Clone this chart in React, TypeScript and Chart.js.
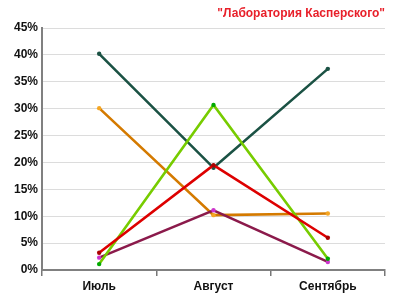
import React, { useEffect, useRef } from "react";
import { Chart, registerables } from "chart.js";

Chart.register(...registerables);

const titleText = "\"Лаборатория Касперского\"";
const categories = ["Июль", "Август", "Сентябрь"];
const seriesTeal = [40.2, 19.0, 37.4];
const seriesOrange = [30.1, 10.2, 10.5];
const seriesPurple = [2.3, 11.1, 1.5];
const seriesGreen = [1.1, 30.7, 2.1];
const seriesRed = [3.2, 19.5, 6.0];
const yTicks = [0, 5, 10, 15, 20, 25, 30, 35, 40, 45];

export default function App() {
  const ref = useRef<HTMLCanvasElement | null>(null);
  useEffect(() => {
    document.body.style.margin = "0";
    const font = { family: "'Liberation Sans', Arial, sans-serif", size: 12, weight: "bold" as const };
    const mk = (data: number[], line: string, point: string, order: number) => ({
      data,
      borderColor: line,
      backgroundColor: point,
      pointBackgroundColor: point,
      pointBorderWidth: 0,
      pointRadius: 2.2,
      borderWidth: 2.6,
      tension: 0,
      order,
    });
    const chart = new Chart(ref.current!, {
      type: "line",
      data: {
        labels: categories,
        datasets: [
          mk(seriesRed, "#dd0000", "#aa0000", 1),
          mk(seriesGreen, "#77cc00", "#00aa00", 2),
          mk(seriesPurple, "#8b1a4b", "#cc33cc", 3),
          mk(seriesOrange, "#d47a00", "#f5a623", 4),
          mk(seriesTeal, "#1b5244", "#1b5244", 5),
        ],
      },
      options: {
        animation: false,
        responsive: false,
        layout: { padding: { left: 0, right: 15, top: 0, bottom: 0 } },
        plugins: {
          legend: { display: false },
          tooltip: { enabled: false },
          title: {
            display: true,
            text: titleText,
            align: "end",
            color: "#e8202a",
            font: { family: "'Liberation Sans', Arial, sans-serif", size: 12, weight: "bold" },
            padding: { top: 6, bottom: 7.6 },
          },
        },
        scales: {
          x: {
            offset: true,
            grid: {
              offset: true,
              drawOnChartArea: false,
              drawTicks: true,
              tickLength: 6,
              color: "#777777",
              lineWidth: 1.5,
            },
            border: { display: true, color: "#808080", width: 2 },
            ticks: { color: "#111111", font, padding: 3 },
            afterFit: (s: any) => {
              s.height = 30;
            },
          },
          y: {
            min: 0,
            max: 45,
            afterBuildTicks: (s: any) => {
              s.ticks = yTicks.map((v) => ({ value: v }));
            },
            grid: { color: "#dcdcdc", lineWidth: 1, drawTicks: false },
            border: { display: true, color: "#808080", width: 2 },
            ticks: {
              color: "#111111",
              font,
              padding: 4,
              callback: (v: any) => v + "%",
            },
            afterFit: (s: any) => {
              s.width = 42;
            },
          },
        },
      },
    });
    return () => chart.destroy();
  }, []);
  return <canvas ref={ref} width={400} height={300} style={{ display: "block" }} />;
}
